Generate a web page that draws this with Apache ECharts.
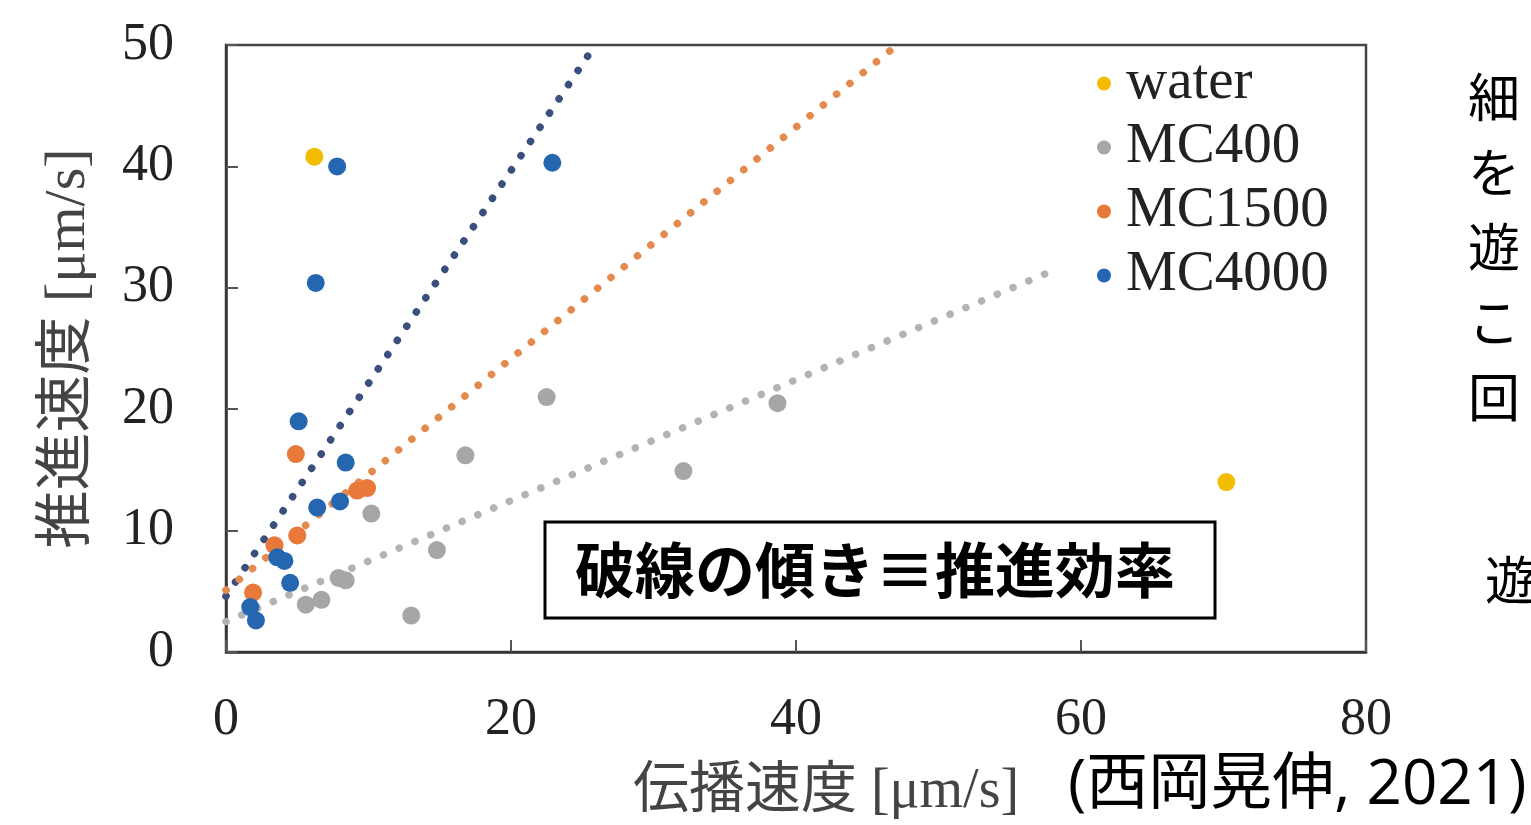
<!DOCTYPE html>
<html>
<head>
<meta charset="utf-8">
<script src="https://cdn.jsdelivr.net/npm/echarts@6/dist/echarts.min.js"></script>
<style>
html,body{margin:0;padding:0;background:#fff;}
#chart{width:1531px;height:825px;}
</style>
</head>
<body>
<div id="chart"></div>
<script>
// ---- data ----
const seriesNames = ['water', 'MC400', 'MC1500', 'MC4000'];
const waterX = [6.2, 70.2];
const waterY = [40.8, 14.0];
const mc400X = [22.5, 38.7, 16.8, 32.1, 10.2, 14.8, 7.9, 8.4, 6.7, 5.6, 13.0];
const mc400Y = [21.0, 20.5, 16.2, 14.9, 11.4, 8.4, 6.1, 5.9, 4.3, 3.9, 3.0];
const mc1500X = [4.9, 9.2, 9.9, 5.0, 3.4, 1.9];
const mc1500Y = [16.3, 13.3, 13.5, 9.6, 8.8, 4.9];
const mc4000X = [5.1, 8.4, 6.4, 8.0, 4.1, 3.6, 4.5, 1.7, 2.1, 7.8, 6.3, 22.9];
const mc4000Y = [19.0, 15.6, 11.9, 12.4, 7.5, 7.8, 5.7, 3.7, 2.6, 40.0, 30.4, 40.3];
// dotted trend lines (start / end points in data units)
const trendMC4000X = [0, 25.9];
const trendMC4000Y = [4.6, 50];
const trendMC1500X = [0, 47.1];
const trendMC1500Y = [5.1, 50];
const trendMC400X = [0, 58];
const trendMC400Y = [2.5, 31.4];
const xTicks = [0, 20, 40, 60, 80];
const yTicks = [0, 10, 20, 30, 40, 50];
const xName = '伝播速度 [μm/s]';
const yName = '推進速度 [μm/s]';
const boxText = '破線の傾き≡推進効率';
const credit = '(西岡晃伸, 2021)';
const sideChars = ['細', 'を', '遊', 'こ', '回'];
const sideChar2 = '遊';

const colors = {
  water: '#f2bd00',
  MC400: '#a6a6a6',
  MC1500: '#e9793a',
  MC4000: '#2466b0'
};

function zip(xs, ys) { return xs.map((x, i) => [x, ys[i]]); }

const serif = '"Liberation Serif", "Noto Sans CJK JP", serif';
const cjk = '"Noto Sans CJK JP", "Open Sans", sans-serif';

const chart = echarts.init(document.getElementById('chart'), null, {renderer: 'canvas'});

function scatter(name, xs, ys) {
  return {
    name: name, type: 'scatter', data: zip(xs, ys),
    symbolSize: 18, z: 5,
    itemStyle: { color: colors[name], opacity: 1 }
  };
}
function trend(xs, ys, color) {
  return {
    type: 'line', data: zip(xs, ys), showSymbol: false, silent: true, z: 3,
    lineStyle: { color: color, width: 7.5, type: [0.1, 17], cap: 'round' }
  };
}

chart.setOption({
  animation: false,
  backgroundColor: '#fff',
  grid: {
    left: 226, right: 165, top: 45, bottom: 173,
    outerBoundsMode: 'none', containLabel: false,
    show: true, borderColor: '#444', borderWidth: 2.5, backgroundColor: 'transparent'
  },
  legend: {
    data: seriesNames,
    orient: 'vertical',
    left: 1092, top: 50,
    icon: 'circle', itemWidth: 14, itemHeight: 14, itemGap: 7,
    textStyle: { fontFamily: serif, fontSize: 57, color: '#222', padding: [0, 0, 0, 10] }
  },
  xAxis: {
    type: 'value', min: 0, max: 80, interval: 20,
    name: xName, nameLocation: 'middle', nameGap: 112,
    nameTextStyle: { fontFamily: serif, fontSize: 56, color: '#444', padding: [0, 0, 0, 60] },
    axisLine: { show: true, lineStyle: { color: '#333', width: 2.5 } },
    axisTick: { show: true, inside: true, length: 12, lineStyle: { color: '#555', width: 2 } },
    axisLabel: {
      fontFamily: serif, fontSize: 52, color: '#222', margin: 42,
      formatter: v => (xTicks.indexOf(v) >= 0 ? String(v) : '')
    },
    splitLine: { show: false }
  },
  yAxis: {
    type: 'value', min: 0, max: 50, interval: 10,
    name: yName, nameLocation: 'middle', nameGap: 128,
    nameTextStyle: { fontFamily: serif, fontSize: 58, color: '#444' },
    axisLine: { show: true, lineStyle: { color: '#333', width: 2.5 } },
    axisTick: { show: true, inside: true, length: 12, lineStyle: { color: '#555', width: 2 } },
    axisLabel: {
      fontFamily: serif, fontSize: 52, color: '#222', margin: 52,
      formatter: v => (yTicks.indexOf(v) >= 0 ? String(v) : '')
    },
    splitLine: { show: false }
  },
  series: [
    trend(trendMC4000X, trendMC4000Y, '#3a4f7e'),
    trend(trendMC1500X, trendMC1500Y, '#e58a4e'),
    trend(trendMC400X, trendMC400Y, '#b3b3b3'),
    scatter('water', waterX, waterY),
    scatter('MC400', mc400X, mc400Y),
    scatter('MC1500', mc1500X, mc1500Y),
    scatter('MC4000', mc4000X, mc4000Y)
  ],
  graphic: [
    {
      type: 'rect', z: 100,
      shape: { x: 545, y: 522, width: 670, height: 96 },
      style: { fill: '#fff', stroke: '#000', lineWidth: 3 }
    },
    {
      type: 'text', z: 101, x: 875, y: 570,
      style: {
        text: boxText, fontFamily: cjk, fontWeight: 'bold', fontSize: 60,
        fill: '#000', align: 'center', verticalAlign: 'middle'
      }
    },
    {
      type: 'text', z: 101, x: 1068, y: 786,
      style: {
        text: credit, fontFamily: '"Open Sans", "Noto Sans CJK JP", sans-serif', fontSize: 62,
        fill: '#000', align: 'left', verticalAlign: 'middle'
      }
    },
    {
      type: 'text', z: 101, x: 1468, y: 60,
      style: {
        text: sideChars.join('\n'), fontFamily: cjk, fontSize: 52, lineHeight: 75,
        fill: '#000', align: 'left', verticalAlign: 'top'
      }
    },
    {
      type: 'text', z: 101, x: 1485, y: 580,
      style: {
        text: sideChar2, fontFamily: cjk, fontSize: 52,
        fill: '#000', align: 'left', verticalAlign: 'middle'
      }
    }
  ]
});
</script>
</body>
</html>
